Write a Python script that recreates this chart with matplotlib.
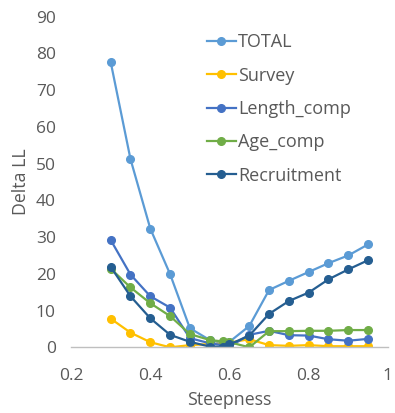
import matplotlib.pyplot as plt

plt.rcParams['font.family'] = ['Open Sans', 'DejaVu Sans']

steepness = [0.3, 0.35, 0.4, 0.45, 0.5, 0.55, 0.583, 0.6, 0.65, 0.7, 0.75, 0.8, 0.85, 0.9, 0.95]

total       = [77.6, 51.2, 32.3, 19.9, 5.2, 2.0, 1.1, 1.5, 5.8, 15.6, 18.1, 20.5, 22.9, 25.0, 28.0]
survey      = [7.8, 4.0, 1.4, 0.0, 0.6, 0.9, 1.0, 1.3, 2.2, 0.6, 0.4, 0.6, 0.3, 0.3, 0.3]
length_comp = [29.2, 19.8, 13.9, 10.8, 2.5, 1.1, 0.6, 0.2, 3.4, 4.5, 3.3, 3.2, 2.2, 1.8, 2.3]
age_comp    = [21.4, 16.3, 12.0, 8.5, 3.6, 2.0, 1.6, 1.4, 0.0, 4.4, 4.4, 4.5, 4.5, 4.7, 4.7]
recruitment = [21.9, 13.9, 7.9, 3.4, 1.5, 0.2, 0.2, 0.8, 3.2, 9.1, 12.6, 14.9, 18.5, 21.2, 23.7]

series = [
    ('TOTAL', total, '#5B9BD5'),
    ('Survey', survey, '#FFC000'),
    ('Length_comp', length_comp, '#4472C4'),
    ('Age_comp', age_comp, '#70AD47'),
    ('Recruitment', recruitment, '#255E91'),
]

fig = plt.figure(figsize=(3.95, 4.13), dpi=100)
ax = fig.add_axes([0.18, 0.159, 0.802, 0.801])

for name, vals, col in series:
    ax.plot(steepness, vals, color=col, lw=1.6, marker='o', markersize=5.5, label=name)

ax.set_xlim(0.2, 1.0)
ax.set_ylim(0, 90)
ax.set_xticks([0.2, 0.4, 0.6, 0.8, 1.0])
ax.set_xticklabels(['0.2', '0.4', '0.6', '0.8', '1'])
ax.set_yticks(range(0, 91, 10))

for s in ['top', 'right', 'left']:
    ax.spines[s].set_visible(False)
ax.spines['bottom'].set_color('#BFBFBF')
ax.spines['bottom'].set_linewidth(1.0)
ax.tick_params(axis='both', length=0, labelsize=12.5, colors='#595959')
ax.tick_params(axis='y', pad=11)
ax.tick_params(axis='x', pad=15)

ax.set_xlabel('Steepness', fontsize=12.8, color='#595959', labelpad=5)
ax.set_ylabel('Delta LL', fontsize=12.8, color='#595959', labelpad=4)

leg = ax.legend(loc='upper left', bbox_to_anchor=(0.505, 0.937), bbox_transform=fig.transFigure,
                frameon=False, fontsize=13, handlelength=1.6, handletextpad=0.15,
                labelspacing=0.85, borderaxespad=0)
for t in leg.get_texts():
    t.set_color('#595959')

fig.savefig('out.png', dpi=100)
